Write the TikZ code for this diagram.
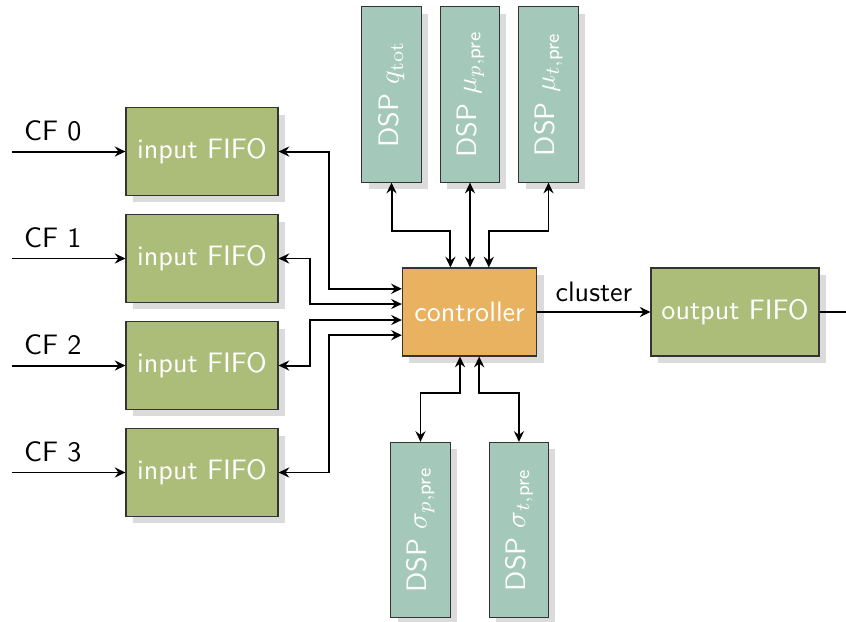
\documentclass[tikz,border=0pt]{standalone}
\usepackage{amsmath}
\usetikzlibrary{arrows.meta, shadows}

\definecolor{fifogreen}{RGB}{172,189,122}
\definecolor{dspteal}{RGB}{164,201,187}
\definecolor{ctrlorange}{RGB}{233,178,97}

\begin{document}
\begin{tikzpicture}[
        every node/.style={font=\sffamily, align=center},
        box/.style={rectangle, draw=black!80, text=white, inner sep=2pt,
            drop shadow={fill=black!14, opacity=1, shadow xshift=0.085cm, shadow yshift=-0.085cm}},
        fifo/.style={box, fill=fifogreen, minimum width=1.9cm, minimum height=1.09cm},
        dsp/.style={box, fill=dspteal, minimum width=0.74cm, minimum height=2.19cm},
        ctrlbox/.style={box, fill=ctrlorange, minimum width=1.68cm, minimum height=1.1cm},
        arr/.style={-{Stealth[length=3.8pt, width=3.6pt, inset=1.3pt]}, line width=0.7pt, black},
        biarr/.style={{Stealth[length=3.8pt, width=3.6pt, inset=1.3pt]}-{Stealth[length=3.8pt, width=3.6pt, inset=1.3pt]}, line width=0.7pt, black}
    ]
    \useasboundingbox (0,0) rectangle (10.575,-7.7625);

    % input side
    \node[fifo] (in0) at (2.525, -1.894) {input FIFO};
    \node[fifo] (in1) at (2.525, -3.231) {input FIFO};
    \node[fifo] (in2) at (2.525, -4.569) {input FIFO};
    \node[fifo] (in3) at (2.525, -5.906) {input FIFO};
    \coordinate (cf0) at (0.15, -1.894);
    \coordinate (cf1) at (0.15, -3.231);
    \coordinate (cf2) at (0.15, -4.569);
    \coordinate (cf3) at (0.15, -5.906);

    % controller and output
    \node[ctrlbox] (ctrl) at (5.87, -3.9)   {controller};
    \node[fifo, minimum width=2.1cm, minimum height=1.1cm] (outf) at (9.1875, -3.9) {output FIFO};
    \coordinate (outend) at (10.575, -3.9);

    % DSP blocks
    \node[dsp] (dq)   at (4.894, -1.181) {\rotatebox{90}{DSP $q_\mathrm{tot}$}};
    \node[dsp] (dmup) at (5.875, -1.181) {\rotatebox{90}{DSP $\mu_{p,\text{pre}}$}};
    \node[dsp] (dmut) at (6.856, -1.181) {\rotatebox{90}{DSP $\mu_{t,\text{pre}}$}};
    \node[dsp] (dsgp) at (5.256, -6.625) {\rotatebox{90}{DSP $\sigma_{p,\text{pre}}$}};
    \node[dsp] (dsgt) at (6.487, -6.625) {\rotatebox{90}{DSP $\sigma_{t,\text{pre}}$}};

    \draw[arr] (cf0) -- (in0.west) node[pos=0.36, above] {CF 0};
    \draw[arr] (cf1) -- (in1.west) node[pos=0.36, above] {CF 1};
    \draw[arr] (cf2) -- (in2.west) node[pos=0.36, above] {CF 2};
    \draw[arr] (cf3) -- (in3.west) node[pos=0.36, above] {CF 3};

    \draw[biarr] (in0.east) -- ++(0.625,0)  |- ([yshift=0.29cm]ctrl.west);
    \draw[biarr] (in1.east) -- ++(0.388,0)  |- ([yshift=0.1cm]ctrl.west);
    \draw[biarr] (in2.east) -- ++(0.388,0)  |- ([yshift=-0.1cm]ctrl.west);
    \draw[biarr] (in3.east) -- ++(0.625,0)  |- ([yshift=-0.29cm]ctrl.west);

    \draw[biarr] (dq.south)   -- ++(0,-0.6) -| ([xshift=-0.24cm]ctrl.north);
    \draw[biarr] (dmup.south) -- (dmup.south |- ctrl.north);
    \draw[biarr] (dmut.south) -- ++(0,-0.6) -| ([xshift=0.24cm]ctrl.north);

    \draw[biarr] ([xshift=-0.12cm]ctrl.south) -- ++(0,-0.46) -| (dsgp.north);
    \draw[biarr] ([xshift=0.12cm]ctrl.south)  -- ++(0,-0.46) -| (dsgt.north);

    \draw[arr] (ctrl.east) -- (outf.west) node[midway, above] {cluster};
    \draw[line width=0.7pt] (outf.east) -- (outend);
\end{tikzpicture}
\end{document}
